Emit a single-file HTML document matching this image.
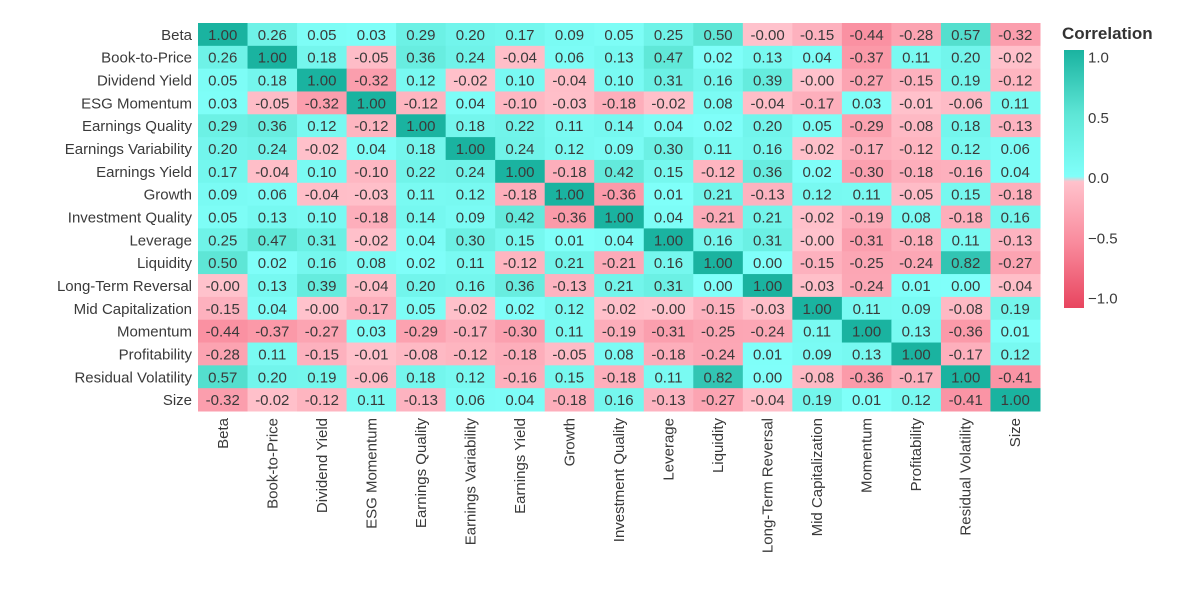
<!DOCTYPE html>
<html><head><meta charset="utf-8">
<style>
html,body{margin:0;padding:0;background:#fff;width:1200px;height:600px;overflow:hidden}
svg text{font-family:"Liberation Sans",sans-serif;fill:#3a3a3a}
</style></head>
<body>
<svg id="chart" width="1200" height="600" xmlns="http://www.w3.org/2000/svg">
<defs>
<linearGradient id="cbar" x1="0" y1="0" x2="0" y2="1">
<stop offset="0" stop-color="#1ab3a0"/>
<stop offset="0.25" stop-color="#5ee6d6"/>
<stop offset="0.49" stop-color="#80fffa"/>
<stop offset="0.51" stop-color="#ffc2cc"/>
<stop offset="0.75" stop-color="#f98a9c"/>
<stop offset="1" stop-color="#e8455f"/>
</linearGradient>
</defs>
<g id="cells"></g>
<g id="ylabels"></g>
<g id="xlabels"></g>
<g>
<text x="1062" y="39" font-size="17" font-weight="bold" style="fill:#333">Correlation</text>
<rect x="1064" y="50" width="20" height="258" fill="url(#cbar)"/>
<g id="cbticks"></g>
</g>
</svg>
<script>
const factors = ["Beta","Book-to-Price","Dividend Yield","ESG Momentum","Earnings Quality","Earnings Variability","Earnings Yield","Growth","Investment Quality","Leverage","Liquidity","Long-Term Reversal","Mid Capitalization","Momentum","Profitability","Residual Volatility","Size"];
const matrix = [
[1.00,0.26,0.05,0.03,0.29,0.20,0.17,0.09,0.05,0.25,0.50,-0.00,-0.15,-0.44,-0.28,0.57,-0.32],
[0.26,1.00,0.18,-0.05,0.36,0.24,-0.04,0.06,0.13,0.47,0.02,0.13,0.04,-0.37,0.11,0.20,-0.02],
[0.05,0.18,1.00,-0.32,0.12,-0.02,0.10,-0.04,0.10,0.31,0.16,0.39,-0.00,-0.27,-0.15,0.19,-0.12],
[0.03,-0.05,-0.32,1.00,-0.12,0.04,-0.10,-0.03,-0.18,-0.02,0.08,-0.04,-0.17,0.03,-0.01,-0.06,0.11],
[0.29,0.36,0.12,-0.12,1.00,0.18,0.22,0.11,0.14,0.04,0.02,0.20,0.05,-0.29,-0.08,0.18,-0.13],
[0.20,0.24,-0.02,0.04,0.18,1.00,0.24,0.12,0.09,0.30,0.11,0.16,-0.02,-0.17,-0.12,0.12,0.06],
[0.17,-0.04,0.10,-0.10,0.22,0.24,1.00,-0.18,0.42,0.15,-0.12,0.36,0.02,-0.30,-0.18,-0.16,0.04],
[0.09,0.06,-0.04,-0.03,0.11,0.12,-0.18,1.00,-0.36,0.01,0.21,-0.13,0.12,0.11,-0.05,0.15,-0.18],
[0.05,0.13,0.10,-0.18,0.14,0.09,0.42,-0.36,1.00,0.04,-0.21,0.21,-0.02,-0.19,0.08,-0.18,0.16],
[0.25,0.47,0.31,-0.02,0.04,0.30,0.15,0.01,0.04,1.00,0.16,0.31,-0.00,-0.31,-0.18,0.11,-0.13],
[0.50,0.02,0.16,0.08,0.02,0.11,-0.12,0.21,-0.21,0.16,1.00,0.00,-0.15,-0.25,-0.24,0.82,-0.27],
[-0.00,0.13,0.39,-0.04,0.20,0.16,0.36,-0.13,0.21,0.31,0.00,1.00,-0.03,-0.24,0.01,0.00,-0.04],
[-0.15,0.04,-0.00,-0.17,0.05,-0.02,0.02,0.12,-0.02,-0.00,-0.15,-0.03,1.00,0.11,0.09,-0.08,0.19],
[-0.44,-0.37,-0.27,0.03,-0.29,-0.17,-0.30,0.11,-0.19,-0.31,-0.25,-0.24,0.11,1.00,0.13,-0.36,0.01],
[-0.28,0.11,-0.15,-0.01,-0.08,-0.12,-0.18,-0.05,0.08,-0.18,-0.24,0.01,0.09,0.13,1.00,-0.17,0.12],
[0.57,0.20,0.19,-0.06,0.18,0.12,-0.16,0.15,-0.18,0.11,0.82,0.00,-0.08,-0.36,-0.17,1.00,-0.41],
[-0.32,-0.02,-0.12,0.11,-0.13,0.06,0.04,-0.18,0.16,-0.13,-0.27,-0.04,0.19,0.01,0.12,-0.41,1.00]
];
const colorTicks = [1.0,0.5,0.0,-0.5,-1.0];
const colorTickLabels = ["1.0","0.5","0.0","\u22120.5","\u22121.0"];

const NS="http://www.w3.org/2000/svg";
const X0=198,X1=1040,Y0=23,Y1=411;
const n=factors.length, cw=(X1-X0)/n, ch=(Y1-Y0)/n;
function xPos(i){return X0+i*cw;}
function yPos(j){return Y0+j*ch;}
function hex(c){return [1,3,5].map(k=>parseInt(c.substr(k,2),16));}
function mix(a,b,t){const A=hex(a),B=hex(b);return "rgb("+A.map((v,k)=>Math.round(v+(B[k]-v)*t)).join(",")+")";}
function color(v){
  const neg = v<0 || Object.is(v,-0);
  const a=Math.abs(v);
  if(!neg){ return a<=0.5?mix("#80fffa","#5ee6d6",a/0.5):mix("#5ee6d6","#1ab3a0",(a-0.5)/0.5); }
  return a<=0.5?mix("#ffc2cc","#f98a9c",a/0.5):mix("#f98a9c","#e8455f",(a-0.5)/0.5);
}
function fmt(v){const s=Math.abs(v).toFixed(2);return (v<0||Object.is(v,-0))?"-"+s:s;}
const cells=document.getElementById("cells");
for(let r=0;r<n;r++){for(let c=0;c<n;c++){
  const v=matrix[r][c];
  const rect=document.createElementNS(NS,"rect");
  
  
  rect.setAttribute("x",xPos(c));rect.setAttribute("y",yPos(r));
  rect.setAttribute("width",cw+0.5);rect.setAttribute("height",ch+0.5);
  rect.setAttribute("fill",color(v));
  cells.appendChild(rect);
  const t=document.createElementNS(NS,"text");
  
  
  t.setAttribute("x",xPos(c)+cw/2);t.setAttribute("y",yPos(r)+ch/2+5.5);
  t.setAttribute("text-anchor","middle");t.setAttribute("font-size","15");
  t.textContent=fmt(v);
  cells.appendChild(t);
}}
const yl=document.getElementById("ylabels"), xl=document.getElementById("xlabels");
factors.forEach((f,i)=>{
  const t=document.createElementNS(NS,"text");
  
  
  t.setAttribute("x",192);t.setAttribute("y",yPos(i)+ch/2+5.5);
  t.setAttribute("text-anchor","end");t.setAttribute("font-size","15");
  t.textContent=f;yl.appendChild(t);
  const u=document.createElementNS(NS,"text");
  
  
  const cx=xPos(i)+cw/2+5;
  u.setAttribute("transform","translate("+cx+",418) rotate(-90)");
  u.setAttribute("text-anchor","end");u.setAttribute("font-size","15");
  u.textContent=f;xl.appendChild(u);
});
const cbt=document.getElementById("cbticks");
function cbY(v){return 57+(1-v)/2*(298-57);}
colorTicks.forEach((v,i)=>{
  const t=document.createElementNS(NS,"text");
  
  
  t.setAttribute("x",1088);t.setAttribute("y",cbY(v)+5.5);
  t.setAttribute("font-size","15");
  t.textContent=colorTickLabels[i];cbt.appendChild(t);
});
</script>
</body></html>
